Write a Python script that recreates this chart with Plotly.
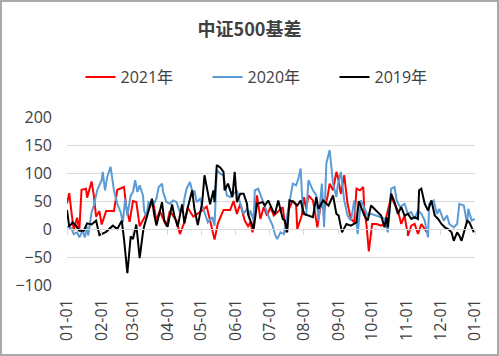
import pandas as pd
import plotly.graph_objects as go

title_text = "中证500基差"
series_names = ["2021年", "2020年", "2019年"]
series_colors = ["#ff0000", "#5b9bd5", "#000000"]
tick_labels = ["01-01", "02-01", "03-01", "04-01", "05-01", "06-01", "07-01",
               "08-01", "09-01", "10-01", "11-01", "12-01", "01-01"]

# day offset from 01-01, value
days_2021 = [0, 2, 4, 6, 9, 11, 13, 17, 18, 22, 24, 26, 29, 31, 35, 42, 45, 51, 53, 56, 59, 62, 65, 68, 71, 77, 80, 83, 86, 89,
             92, 98, 101, 105, 108, 113, 119, 125, 128, 132, 135, 140, 146, 149, 152, 155, 159, 162, 164, 166, 168, 170, 173,
             176, 179, 182, 185, 188, 193, 195, 196, 198, 202, 205, 206, 210, 212, 214, 216, 220, 223, 224, 227, 230, 233, 235,
             238, 241, 242, 245, 248, 250, 251, 254, 257, 259, 262, 265, 266, 268, 270, 273, 277, 281, 284, 290, 293, 296, 299,
             302, 305, 308, 311, 314, 317, 320, 322]
vals_2021 = [46, 64, 30, -2, 20, -2, 70, 72, 56, 85, 60, 22, 32, 8, 32, 32, 70, 75, 40, 13, 50, 48, 5, 15, 27, 50, 15, 32, 20, 5,
             32, 15, -9, 12, 38, 22, 30, 40, 15, -19, 10, 34, 34, 50, 27, 45, 15, 5, 12, -6, 33, 60, 18,
             39, 24, 39, 24, 30, 39, 9, -6, 33, 51, 42, 0, 24, 57, 36, 60, 51, 12, 3, 45, 33, 57, 81,
             69, 102, 96, 63, 96, 57, 45, 18, 12, 72, 69, 75, 33, 6, -40, 9, 9, 6, 9, 57, 45, 33, 9,
             24, -12, 6, 9, -9, 9, 0, -6]

days_2020 = [0, 4, 6, 9, 11, 14, 16, 18, 19, 22, 24, 27, 31, 32, 34, 36, 39, 41, 42, 45, 48, 50, 52, 54, 57, 59, 61, 63, 65, 68,
             69, 71, 73, 77, 80, 82, 85, 86, 89, 92, 95, 98, 101, 104, 105, 107, 110, 113, 114, 116, 119, 123, 126, 130, 132,
             134, 137, 140, 141, 143, 146, 149, 152, 155, 158, 161, 163, 164, 167, 168, 171, 175, 177, 180, 184, 186, 188, 191,
             194, 197, 200, 202, 205, 207, 209, 211, 214, 216, 220, 223, 225, 228, 230, 232, 235, 238, 241, 242, 245, 248, 251,
             254, 257, 260, 263, 266, 269, 272, 277, 281, 284, 287, 290, 293, 295, 298, 302, 305, 308, 311, 314, 317, 320, 323,
             324, 328, 331, 333, 337, 340, 342, 346, 349, 351, 355, 358, 359, 362, 365]
vals_2020 = [4, 1, -9, -6, -15, -3, -15, 4, -12, 30, 42, 69, 87, 102, 69, 93, 111, 84, 69, 45, 30, 12, 54, 24, 60, 66, 87, 66, 78, 60,
             33, 21, 48, 42, 54, 75, 81, 66, 48, 45, 51, 48, 30, 39, 54, 72, 84, 60, 69, 48, 54, 30, 12, 21, 6,
             105, 99, 96, 81, 60, 57, 63, 69, 45, 27, 36, 24, 33, 15, 69, 72, 51, 39, 24, 6, -9, -18, -6,
             -9, 27, 63, 81, 78, 90, 108, 33, 24, 87, 69, 60, 15, 81, 3, 117, 141, 81, 57, 75, 102, 51, 24,
             15, 51, -9, 51, 36, 24, 27, 24, 21, 18, -6, 72, 75, 51, 39, 45, 27, 30, 18, 33, 27, 15, -15,
             45, 51, 27, 36, 15, 24, 9, 3, 9, 45, 42, 9, 36, 15, 18]

days_2019 = [0, 2, 5, 8, 11, 15, 18, 22, 26, 29, 35, 41, 45, 49, 51, 54, 57, 59, 62, 65, 68, 69, 72, 76, 78, 80, 85, 87, 90, 94,
             96, 99, 103, 105, 108, 112, 114, 117, 121, 123, 125, 128, 131, 132, 134, 137, 140, 141, 144, 148, 150, 152, 155,
             158, 161, 162, 164, 167, 170, 175, 177, 180, 184, 186, 189, 193, 195, 197, 199, 203, 206, 209, 212, 216, 220, 223,
             225, 229, 232, 234, 238, 241, 243, 246, 250, 254, 259, 261, 266, 269, 272, 277, 281, 284, 286, 287, 290, 293, 296,
             299, 302, 305, 308, 311, 314, 315, 317, 320, 323, 326, 329, 332, 335, 338, 341, 344, 346, 349, 351, 353, 356, 358,
             360, 364]
vals_2019 = [34, 4, 12, 6, -3, -3, 10, 8, 15, -11, -5, 6, 0, 15, -18, -79, -13, -18, 8, -52, -5, 5, 26, 54, 26, 6, 48, 15, 4, 44,
             24, 4, 44, 10, 38, 69, 36, 7, 48, 96, 75, 44, 69, 48, 114, 110, 102, 69, 81, 57, 102, 48, 63,
             63, 45, 26, 15, 0, 45, 48, 42, 51, 33, 27, 51, 18, 15, -6, 51, 48, 42, 51, 27, 24, 21, 57,
             36, 51, 45, 42, 60, 27, 24, -6, 9, 6, 12, 50, 24, 15, 42, 33, 24, 3, 21, 3, 63, 48, 27,
             39, 24, 27, 18, 21, 18, 69, 72, 45, 33, 51, 24, 18, 9, 3, 0, -6, -21, -6, -12, -21, 3, 15,
             12, -6]

base = pd.Timestamp("2001-01-01")


def to_dates(days):
    return [base + pd.Timedelta(days=d) for d in days]


font_main = "Open Sans, Noto Sans CJK SC, sans-serif"
text_color = "#404040"

fig = go.Figure()
for name, color, d, v in [(series_names[0], series_colors[0], days_2021, vals_2021),
                          (series_names[1], series_colors[1], days_2020, vals_2020),
                          (series_names[2], series_colors[2], days_2019, vals_2019)]:
    fig.add_trace(go.Scatter(x=to_dates(d), y=v, mode="lines", name=name,
                             line=dict(color=color, width=2), hoverinfo="skip"))

tick_vals = [base + pd.DateOffset(months=i) for i in range(13)]
x_range = [tick_vals[0], tick_vals[-1]]

# invisible trace to keep the zero-crossing axis drawn
fig.add_trace(go.Scatter(x=[tick_vals[0]], y=[None], xaxis="x2", showlegend=False,
                         hoverinfo="skip", mode="lines"))

W, H = 499, 356
L, R, T, B = 67, 24, 117, 71
pw, ph = W - L - R, H - T - B

fig.update_layout(
    width=W, height=H,
    margin=dict(l=L, r=R, t=T, b=B),
    paper_bgcolor="white", plot_bgcolor="white",
    title=dict(text="<b>" + title_text + "</b>", x=0.5, xanchor="center", y=1 - 30 / H, yanchor="middle",
               font=dict(family="Noto Sans CJK SC", size=18, color=text_color)),
    legend=dict(orientation="h", x=0.5, xanchor="center", y=1 + (T - 77) / ph, yanchor="middle",
                font=dict(family=font_main, size=16, color=text_color),
                entrywidth=82, entrywidthmode="pixels",
                traceorder="normal"),
    xaxis=dict(type="date", range=x_range, tickvals=tick_vals, ticktext=tick_labels,
               tickangle=-90, showgrid=False, showline=False, ticks="", zeroline=False,
               tickfont=dict(family=font_main, size=16, color=text_color), ticklabelstandoff=10),
    xaxis2=dict(type="date", range=x_range, tickvals=tick_vals, overlaying="x", anchor="free",
                position=100 / 300, showline=True, linecolor="#d9d9d9", linewidth=1,
                ticks="outside", ticklen=5, tickcolor="#d9d9d9", showticklabels=False, showgrid=False),
    yaxis=dict(range=[-100, 200], tickvals=[-100, -50, 0, 50, 100, 150, 200], showgrid=True,
               gridcolor="#d9d9d9", gridwidth=1, zeroline=False, showline=False,
               tickfont=dict(family=font_main, size=16, color=text_color), ticklabelstandoff=14),
    shapes=[dict(type="rect", xref="paper", yref="paper",
                 x0=(1 - L) / pw, x1=(W - 1 - L) / pw, y0=(T + ph - (H - 1)) / ph, y1=(T + ph - 1) / ph,
                 line=dict(color="#aaa8a9", width=2), fillcolor="rgba(0,0,0,0)", layer="below")],
)

fig.write_html("out.html", config={"displayModeBar": False},
               post_script="document.body.style.margin='0';document.body.style.padding='0';")
